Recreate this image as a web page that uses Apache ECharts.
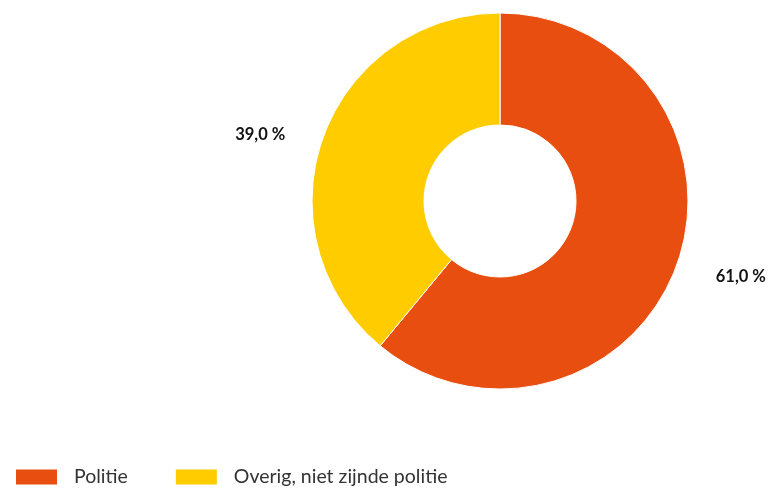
<!DOCTYPE html>
<html>
<head>
<meta charset="utf-8">
<script src="https://cdn.jsdelivr.net/npm/echarts@6/dist/echarts.min.js"></script>
<style>
  html, body { margin: 0; padding: 0; background: #fff; }
  #chart { width: 771px; height: 488px; }
</style>
</head>
<body>
<div id="chart"></div>
<script>
const categories = ['Politie', 'Overig, niet zijnde politie']
const values = [61.0, 39.0]
const colors = ['#E84E0F', '#FFCC00']

const myChart = echarts.init(document.getElementById('chart'))
const option = {
  animation: false,
  color: colors,
  legend: {
    left: 14,
    bottom: 1,
    padding: 0,
    itemWidth: 43,
    itemHeight: 17,
    itemGap: 46,
    icon: 'rect',
    data: categories,
    textStyle: {
      fontFamily: 'Lato',
      fontSize: 19.5,
      color: '#333',
      padding: [0, 0, 0, 11]
    }
  },
  series: [
    {
      type: 'pie',
      center: [500, 201],
      radius: [76, 188],
      startAngle: 90,
      clockwise: true,
      itemStyle: { borderColor: '#fff', borderWidth: 1 },
      label: {
        show: true,
        position: 'outside',
        overflow: 'none',
        fontFamily: 'Lato',
        fontWeight: 'bold',
        fontSize: 16.5,
        color: '#111',
        formatter: p => p.value.toFixed(1).replace('.', ',') + ' %'
      },
      labelLine: { show: false, length: 36, length2: 4 },
      // schuif de labels iets bij zoals in het origineel
      labelLayout: p => (p.dataIndex === 1 ? { dx: 5, dy: 10 } : { dx: -4 }),
      data: categories.map((c, i) => ({ name: c, value: values[i] }))
    }
  ]
}
myChart.setOption(option)
</script>
</body>
</html>
